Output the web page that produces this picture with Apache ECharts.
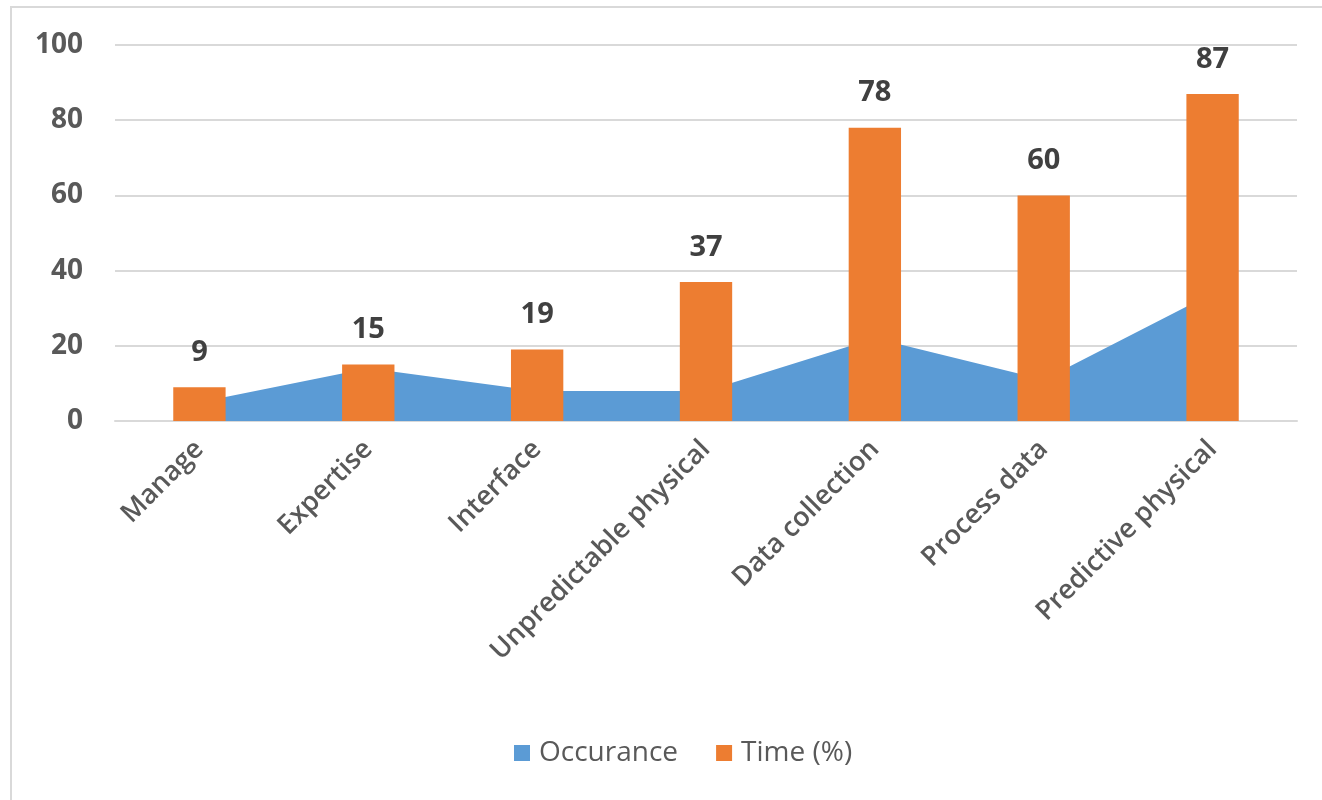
<!DOCTYPE html>
<html>
<head>
<meta charset="utf-8">
<script src="https://cdn.jsdelivr.net/npm/echarts@6/dist/echarts.min.js"></script>
<style>
  html, body { margin: 0; padding: 0; background: #fff; }
  #frame {
    position: absolute; left: 10px; top: 6px; width: 1330px; height: 820px;
    border: 2px solid #d9d9d9; box-sizing: border-box;
  }
  #main { position: absolute; left: 0; top: 0; width: 1322px; height: 800px; }
</style>
</head>
<body>
<div id="frame"></div>
<div id="main"></div>
<script>
var categories = ['Manage', 'Expertise', 'Interface', 'Unpredictable physical', 'Data collection', 'Process data', 'Predictive physical'];
var occurance = [5, 14, 8, 8, 22, 11, 34];
var timePct = [9, 15, 19, 37, 78, 60, 87];
var yTicks = [0, 20, 40, 60, 80, 100];

var fontName = 'Open Sans';
var chartDom = document.getElementById('main');
var myChart = echarts.init(chartDom);
var option;

option = {
  animation: false,
  textStyle: { fontFamily: fontName },
  grid: { left: 115, right: 25, top: 45, bottom: 379, containLabel: false },
  legend: {
    top: 734,
    left: 509,
    itemWidth: 16,
    itemHeight: 16,
    itemGap: 38,
    icon: 'rect',
    textStyle: { fontSize: 28, color: '#595959', fontFamily: fontName, padding: [0, 0, 0, 4] },
    data: ['Occurance', 'Time (%)']
  },
  xAxis: {
    type: 'category',
    data: categories,
    axisLine: { lineStyle: { color: '#d9d9d9', width: 2 } },
    axisTick: { show: false },
    axisLabel: {
      rotate: 45,
      interval: 0,
      margin: 24,
      fontSize: 27,
      fontWeight: 600,
      color: '#595959'
    }
  },
  yAxis: {
    type: 'value',
    min: yTicks[0],
    max: yTicks[yTicks.length - 1],
    interval: 20,
    axisLine: { show: false },
    axisTick: { show: false },
    splitLine: { lineStyle: { color: '#d9d9d9', width: 2 } },
    axisLabel: { fontSize: 28, fontWeight: 'bold', color: '#595959', margin: 32 }
  },
  series: [
    {
      name: 'Occurance',
      type: 'line',
      data: occurance,
      symbol: 'none',
      lineStyle: { width: 0 },
      areaStyle: { color: '#5b9bd5', opacity: 1 },
      itemStyle: { color: '#5b9bd5' },
      z: 1
    },
    {
      name: 'Time (%)',
      type: 'bar',
      data: timePct,
      barWidth: '31%',
      itemStyle: { color: '#ed7d31' },
      label: {
        show: true,
        position: 'top',
        distance: 20,
        fontSize: 29,
        fontWeight: 'bold',
        color: '#404040'
      },
      z: 2
    }
  ]
};

option && myChart.setOption(option);
</script>
</body>
</html>
